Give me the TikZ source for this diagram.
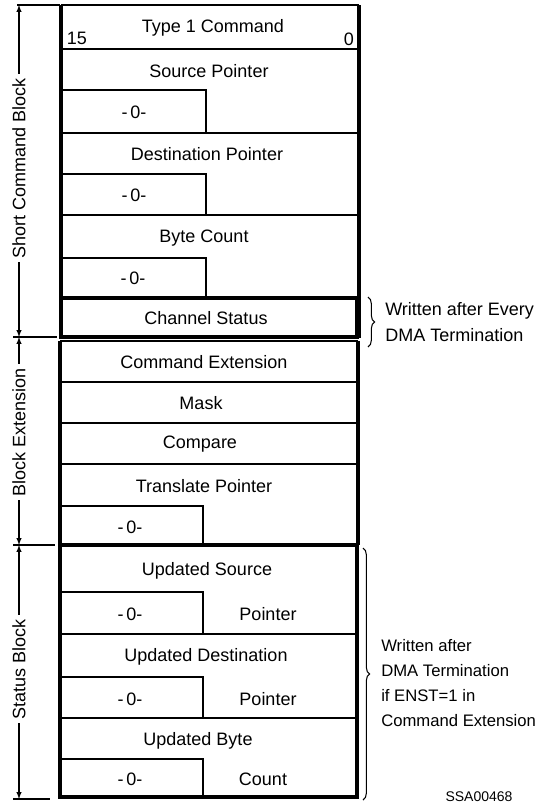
\documentclass[tikz,border=0pt]{standalone}
\usepackage{fontspec}
\setmainfont{Liberation Sans}
\usetikzlibrary{calc}
\usetikzlibrary{positioning}
\usetikzlibrary{arrows}
\usetikzlibrary{decorations.pathreplacing}

\begin{document}
\begin{tikzpicture}[x=0.75pt,y=-0.75pt,>=latex,
  thinline/.style={line width=1.1pt},
  thickline/.style={line width=2.6pt},
  lbl/.style={font=\fontsize{13.5}{15}\selectfont,inner sep=0pt},
  side/.style={lbl,rotate=90,fill=white,inner sep=3pt},
  note/.style={font=\fontsize{13.5}{19}\selectfont,inner sep=0pt,align=left,anchor=west},
  dimline/.style={line width=0.8pt},
  brc/.style={line width=0.8pt,decorate,decoration={brace,amplitude=5pt}}]

\useasboundingbox (0,0) rectangle (545,803);

% short command block
\draw[thickline] (61,5) -- (61,338);
\draw[thickline] (359,5) -- (359,338);
\draw[thinline] (61,5) -- (359,5);
\draw[thinline] (61,49) -- (359,49);
\draw[thinline] (61,90) -- (206,90) -- (206,133);
\draw[thinline] (61,133) -- (359,133);
\draw[thinline] (61,174) -- (206,174) -- (206,215);
\draw[thinline] (61,215) -- (359,215);
\draw[thinline] (61,258) -- (206,258) -- (206,298);
\draw[thickline] (61,298) rectangle (357,337);

% block extension
\draw[thickline] (60,341) -- (60,545);
\draw[thickline] (358,341) -- (358,545);
\draw[thinline] (60,341) -- (358,341);
\draw[thinline] (60,382) -- (358,382);
\draw[thinline] (60,423) -- (358,423);
\draw[thinline] (60,464) -- (358,464);
\draw[thinline] (60,506) -- (203,506) -- (203,545);

% status block
\draw[thickline] (60,545) rectangle (357,797);
\draw[thinline] (60,592) -- (203,592) -- (203,634);
\draw[thinline] (60,634) -- (357,634);
\draw[thinline] (60,677) -- (203,677) -- (203,718);
\draw[thinline] (60,718) -- (357,718);
\draw[thinline] (60,759) -- (203,759) -- (203,797);

% words
\node[lbl] (type1) at (213,28) {Type 1 Command};
\node[lbl] (msb) at (77,38) {15};
\node[lbl] (lsb) at (349,39) {0};
\node[lbl] (srcptr) at (209,71) {Source Pointer};
\node[lbl] (zero1) at (134,112) {-\,0-};
\node[lbl] (dstptr) at (207,154) {Destination Pointer};
\node[lbl] (zero2) at (134,195) {-\,0-};
\node[lbl] (bytecnt) at (204,238) {Byte Count};
\node[lbl] (zero3) at (133,278) {-\,0-};
\node[lbl] (chstat) at (206,318) {Channel Status};
\node[lbl] (cmdext) at (204,362) {Command Extension};
\node[lbl] (mask) at (201,403) {Mask};
\node[lbl] (compare) at (200,444) {Compare};
\node[lbl] (trptr) at (204,486) {Translate Pointer};
\node[lbl] (zero4) at (130,527) {-\,0-};
\node[lbl] (updsrc) at (207,571) {Updated Source};
\node[lbl] (zero5) at (130,614) {-\,0-};
\node[lbl] (srcrest) at (268,614) {Pointer};
\node[lbl] (upddst) at (206,657) {Updated Destination};
\node[lbl] (zero6) at (130,699) {-\,0-};
\node[lbl] (dstrest) at (268,699) {Pointer};
\node[lbl] (updbyte) at (198,741) {Updated Byte};
\node[lbl] (zero7) at (130,779) {-\,0-};
\node[lbl] (byterest) at (263,779) {Count};

% dimension lines on the left
\coordinate (sc1) at (19,5);
\coordinate (sc2) at (19,337);
\coordinate (be2) at (19,545);
\coordinate (sb2) at (19,799);
\draw[dimline] (17,5) -- (60,5);
\draw[dimline] (13,337) -- (57,337);
\draw[dimline] (13,545) -- (55,545);
\draw[dimline] (13,799) -- (50,799);
\draw[dimline,<->] (sc1) -- (sc2);
\draw[dimline,<->] (sc2) -- (be2);
\draw[dimline,<->] (be2) -- (sb2);
\node[side] (scb) at (19,168) {Short Command Block};
\node[side] (bext) at (19,432) {Block Extension};
\node[side] (sblk) at (19,669) {Status Block};

% braces and notes
\coordinate (br1a) at (368,297);
\coordinate (br1b) at (368,347);
\coordinate (br2a) at (363,548);
\coordinate (br2b) at (363,800);
\draw[brc] (br1a) -- (br1b);
\draw[brc] (br2a) -- (br2b);
\node[note] (note1) at (385,322) {Written after Every\\DMA Termination};
\node[note,font=\fontsize{12.5}{18.7}\selectfont] (note2) at (381,683) {Written after\\DMA Termination\\if ENST=1 in\\Command Extension};

\node[font=\fontsize{10.5}{12}\selectfont,inner sep=0pt] (figid) at (479,797) {SSA00468};
\end{tikzpicture}
\end{document}
